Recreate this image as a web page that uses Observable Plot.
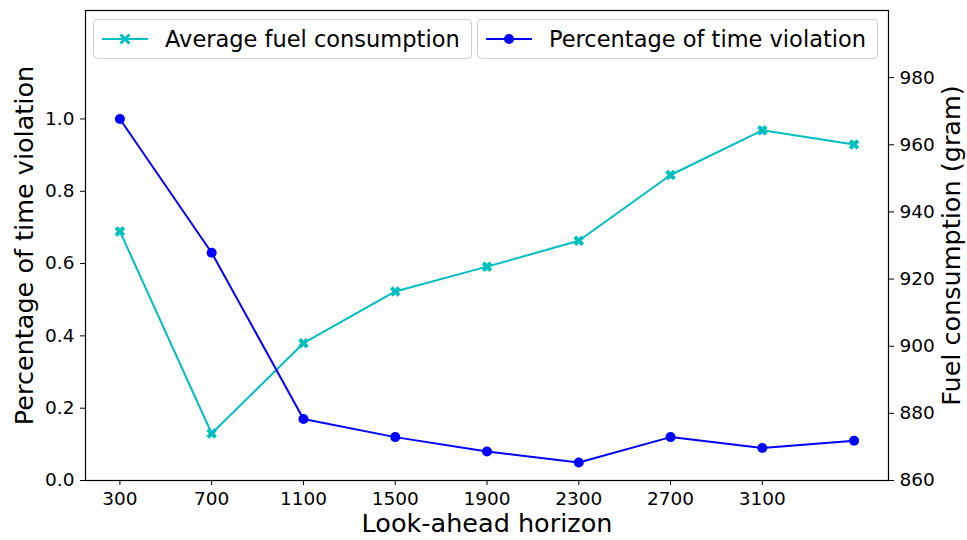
<!DOCTYPE html>
<html>
<head>
<meta charset="utf-8">
<script src="https://cdn.jsdelivr.net/npm/d3@7"></script>
<script src="https://cdn.jsdelivr.net/npm/@observablehq/plot@0.6"></script>
<style>
  html, body { margin: 0; padding: 0; background: #fff; }
  #wrap { position: relative; width: 967px; height: 540px; font-family: "DejaVu Sans", sans-serif; }
  .legend-box {
    position: absolute; top: 19px; height: 40px;
    border: 1px solid #d0d0d0; border-radius: 4px; background: rgba(255,255,255,0.85);
    display: flex; align-items: center; box-sizing: border-box;
    font-size: 22.5px; color: #000; white-space: nowrap;
  }
  .legend-box svg { margin-left: 7px; margin-right: 16px; }
</style>
</head>
<body>
<div id="wrap"></div>
<script>
// Look-ahead horizons on the x axis
const horizons = [300, 700, 1100, 1500, 1900, 2300, 2700, 3100, 3500];
const xTicks = [300, 700, 1100, 1500, 1900, 2300, 2700, 3100];
// Share of trips violating the time window (left axis)
const violation = [1.0, 0.63, 0.17, 0.12, 0.08, 0.05, 0.12, 0.09, 0.11];
// Average fuel consumption in grams (right axis)
const fuel = [934.2, 874.0, 900.9, 916.3, 923.7, 931.4, 951.0, 964.3, 960.1];
const leftTicks = [0, 0.2, 0.4, 0.6, 0.8, 1.0];
const rightTicks = [860, 880, 900, 920, 940, 960, 980];

const cyan = "#00bfbf";
const blue = "#0000ff";

// Both series share one y scale: fuel is mapped from [860, 1000] onto [0, 1.3]
const leftMax = 1.3, fuelMin = 860, fuelMax = 1000;
const toLeft = f => (f - fuelMin) / (fuelMax - fuelMin) * leftMax;
const toFuel = v => fuelMin + v / leftMax * (fuelMax - fuelMin);

const violationData = horizons.map((h, i) => ({h, v: violation[i]}));
const fuelData = horizons.map((h, i) => ({h, v: toLeft(fuel[i])}));

// Filled "X" marker
const filledX = {
  draw(context, size) {
    const s = Math.sqrt(size / Math.PI) * 1.05, w = s * 0.36;
    const pts = [[-w,-s],[w,-s],[w,-w],[s,-w],[s,w],[w,w],[w,s],[-w,s],[-w,w],[-s,w],[-s,-w],[-w,-w]]
      .map(([x, y]) => [(x - y) / Math.SQRT2, (x + y) / Math.SQRT2]);
    context.moveTo(...pts[0]);
    for (const p of pts.slice(1)) context.lineTo(...p);
    context.closePath();
  }
};

const chart = Plot.plot({
  width: 967,
  height: 540,
  marginLeft: 85,
  marginRight: 79,
  marginTop: 10,
  marginBottom: 60,
  style: {fontFamily: "DejaVu Sans, sans-serif", fontSize: "18.5px", color: "#000", background: "#fff"},
  x: {domain: [150, 3650]},
  y: {domain: [0, leftMax]},
  marks: [
    Plot.axisX({ticks: xTicks, tickFormat: d => String(d), tickSize: 5, tickPadding: 6, fontSize: 18.5, label: null}),
    Plot.axisY({ticks: leftTicks, tickFormat: d => d.toFixed(1), anchor: "left", tickSize: 5, tickPadding: 6, fontSize: 18.5, label: null}),
    Plot.axisY({ticks: rightTicks.map(toLeft), tickFormat: v => String(Math.round(toFuel(v))), anchor: "right", tickSize: 5, tickPadding: 6, fontSize: 18.5, label: null}),
    Plot.text(["Percentage of time violation"], {frameAnchor: "left", rotate: -90, dx: -61, fontSize: 25.5, textAnchor: "middle"}),
    Plot.text(["Fuel consumption (gram)"], {frameAnchor: "right", rotate: -90, dx: 63, fontSize: 25.5, textAnchor: "middle"}),
    Plot.text(["Look-ahead horizon"], {frameAnchor: "bottom", dy: 51, fontSize: 25.5, textAnchor: "middle"}),
    Plot.line(fuelData, {x: "h", y: "v", stroke: cyan, strokeWidth: 2}),
    Plot.dot(fuelData, {x: "h", y: "v", fill: cyan, symbol: filledX, r: 5.2}),
    Plot.line(violationData, {x: "h", y: "v", stroke: blue, strokeWidth: 2}),
    Plot.dot(violationData, {x: "h", y: "v", fill: blue, r: 5}),
    Plot.frame({stroke: "#000", strokeWidth: 1.2})
  ]
});

const wrap = document.getElementById("wrap");
wrap.appendChild(chart);

// Legend boxes drawn over the plot area
function legendBox(left, width, color, marker, label) {
  const box = document.createElement("div");
  box.className = "legend-box";
  box.style.left = left + "px";
  box.style.width = width + "px";
  const markerSvg = marker === "x"
    ? `<path d="M-5.5,-3.5 L-3.5,-5.5 L0,-2 L3.5,-5.5 L5.5,-3.5 L2,0 L5.5,3.5 L3.5,5.5 L0,2 L-3.5,5.5 L-5.5,3.5 L-2,0 Z" fill="${color}"/>`
    : `<circle r="5" fill="${color}"/>`;
  box.innerHTML = `<svg width="48" height="20" viewBox="0 0 48 20">
      <line x1="1" y1="10" x2="47" y2="10" stroke="${color}" stroke-width="2"/>
      <g transform="translate(24,10)">${markerSvg}</g></svg><span>${label}</span>`;
  wrap.appendChild(box);
}
legendBox(93, 379, cyan, "x", "Average fuel consumption");
legendBox(477, 401, blue, "o", "Percentage of time violation");
</script>
</body>
</html>
